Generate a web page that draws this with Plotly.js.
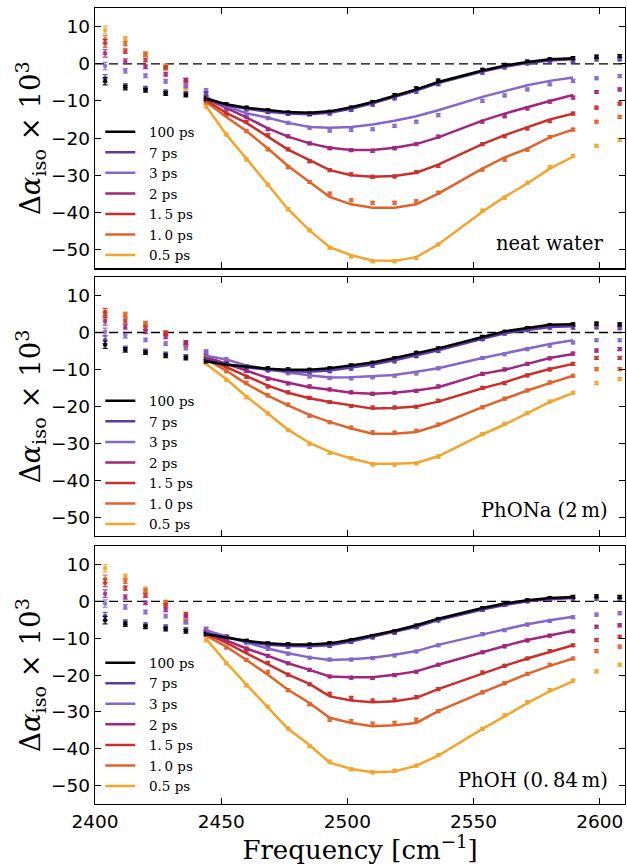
<!DOCTYPE html>
<html><head><meta charset="utf-8">
<script src="https://cdn.plot.ly/plotly-3.0.1.min.js"></script>
<style>html,body{margin:0;padding:0;background:#fff}#chart{width:627px;height:866px}</style>
</head><body><div id="chart"></div>
<script>
// ---------- data ----------
const freq = [2404, 2412, 2420, 2428, 2436, 2444, 2452, 2460, 2468.5, 2476.5, 2485, 2493, 2501.5, 2510, 2518.7, 2527.3, 2536, 2553.5, 2562.3, 2571.3, 2580.2, 2589.4, 2598.7, 2607.9];
const fitFreq = [2444, 2452, 2460, 2468.5, 2476.5, 2485, 2493, 2501.5, 2510, 2518.7, 2527.3, 2536, 2553.5, 2562.3, 2571.3, 2580.2, 2589.4];
const errBars = [1.0, 0.6, 0.5, 0.5, 0.5, 0.5, 0.4, 0.4, 0.4, 0.4, 0.4, 0.4, 0.4, 0.4, 0.4, 0.4, 0.4, 0.4, 0.4, 0.4, 0.4, 0.4, 0.4, 0.4];
const delayLabels = ["0.5 ps", "1.\u20090 ps", "1.\u20095 ps", "2 ps", "3 ps", "7 ps", "100 ps"];
const panelLabels = ["neat water", "PhONa (2\u2009m)", "PhOH (0.\u200984\u2009m)"];
const xTicks = [2400, 2450, 2500, 2550, 2600];
const yTicks = [-50, -40, -30, -20, -10, 0, 10];

// neat water: measured points
const water_pts_05  = [9.1, 6.7, 2.8, -0.6, -6.6, -11.4, -19.0, -25.7, -32.5, -39.1, -44.8, -49.5, -51.8, -53.1, -53.1, -52.2, -48.6, -39.5, -36.0, -32.0, -27.8, -24.8, -22.1, -20.5];
const water_pts_10  = [6.6, 5.4, 2.5, -1.2, -5.6, -10.3, -13.8, -18.1, -23.0, -27.8, -31.8, -34.9, -36.7, -37.4, -37.4, -37.0, -34.7, -28.5, -25.8, -23.1, -19.7, -17.7, -15.6, -14.3];
const water_pts_15  = [5.5, 3.4, 1.0, -0.9, -4.4, -9.8, -13.4, -15.6, -19.2, -23.0, -26.2, -28.6, -29.7, -30.4, -30.3, -29.1, -27.5, -21.6, -19.5, -17.4, -15.4, -13.4, -11.8, -10.7];
const water_pts_2   = [2.8, 0.7, -0.8, -2.8, -4.4, -9.0, -12.2, -14.2, -17.6, -19.5, -21.4, -22.7, -23.2, -23.4, -22.7, -21.6, -19.6, -15.6, -14.1, -12.0, -10.2, -9.1, -7.6, -6.9];
const water_pts_3   = [-0.6, -1.9, -3.2, -4.7, -6.0, -7.2, -12.0, -13.9, -14.6, -15.9, -17.2, -18.0, -17.8, -17.6, -16.7, -15.6, -13.8, -10.0, -8.5, -6.9, -5.5, -4.6, -3.9, -3.3];
const water_pts_7   = [-3.9, -5.9, -6.6, -7.5, -8.0, -8.0, -11.3, -12.3, -13.0, -13.5, -13.6, -13.4, -12.4, -11.0, -9.3, -7.5, -5.5, -2.4, -1.0, 0.1, 0.6, 0.7, 1.2, 1.2];
const water_pts_100 = [-4.7, -6.4, -7.1, -8.0, -8.4, -9.4, -10.9, -11.8, -12.5, -13.1, -13.4, -12.9, -11.8, -10.3, -8.4, -6.6, -4.5, -1.6, -0.3, 0.6, 1.2, 1.5, 1.9, 2.1];
// neat water: fits
const water_fit_05  = [-11.4, -19.0, -25.5, -32.5, -39.1, -44.8, -49.3, -51.5, -52.9, -53.0, -52.0, -48.6, -39.8, -35.8, -32.2, -28.2, -25.0];
const water_fit_10  = [-10.2, -14.3, -18.1, -22.8, -27.5, -31.8, -35.8, -37.8, -38.7, -38.7, -37.8, -34.9, -28.2, -25.2, -22.8, -19.8, -17.7];
const water_fit_15  = [-9.8, -13.2, -15.9, -19.6, -23.1, -25.9, -28.6, -30.0, -30.4, -30.2, -29.3, -27.1, -21.6, -19.2, -17.0, -15.0, -13.4];
const water_fit_2   = [-9.4, -12.0, -14.4, -17.4, -19.6, -21.4, -22.6, -23.2, -23.2, -22.6, -21.6, -19.8, -15.3, -13.4, -11.6, -10.0, -8.4];
const water_fit_3   = [-9.0, -11.4, -13.3, -14.5, -15.9, -17.0, -17.2, -17.0, -16.3, -15.3, -14.1, -12.5, -8.9, -7.3, -5.8, -4.6, -3.7];
const water_fit_7   = [-9.3, -11.1, -12.1, -12.9, -13.4, -13.6, -13.2, -12.1, -10.6, -8.9, -7.2, -5.2, -2.1, -0.8, 0.2, 0.9, 1.2];
const water_fit_100 = [-9.4, -10.9, -11.8, -12.5, -13.0, -13.2, -12.8, -11.7, -10.3, -8.6, -6.9, -4.9, -1.8, -0.5, 0.5, 1.2, 1.5];

// PhONa: measured points
const phona_pts_05  = [5.0, 4.9, 2.2, -0.4, -3.3, -8.2, -12.8, -17.5, -21.9, -26.4, -30.1, -32.6, -34.0, -35.7, -35.8, -35.4, -33.6, -27.5, -24.7, -21.8, -18.7, -16.3, -13.7, -12.6];
const phona_pts_10  = [4.5, 4.7, 2.5, 0.0, -3.3, -7.0, -10.5, -13.6, -17.0, -19.5, -22.5, -24.3, -25.7, -27.0, -27.1, -26.6, -24.9, -20.2, -17.9, -15.7, -13.5, -11.7, -9.9, -9.9];
const phona_pts_15  = [5.5, 3.1, 1.3, -0.3, -2.8, -6.2, -9.2, -12.0, -14.6, -16.2, -17.7, -18.8, -19.9, -20.3, -20.3, -20.1, -18.5, -15.0, -13.7, -11.6, -10.0, -8.5, -6.9, -6.9];
const phona_pts_2   = [3.0, 1.5, 0.2, -1.2, -2.7, -5.3, -8.2, -10.4, -12.5, -13.8, -14.6, -15.4, -16.2, -16.6, -16.3, -15.8, -14.6, -11.2, -10.0, -8.5, -7.0, -5.7, -4.9, -4.5];
const phona_pts_3   = [0.2, -0.9, -2.0, -3.0, -4.2, -5.2, -7.2, -9.2, -10.2, -11.0, -11.9, -12.3, -12.4, -12.1, -11.7, -11.1, -9.7, -6.9, -5.9, -4.5, -3.6, -2.7, -2.1, -2.1];
const phona_pts_7   = [-2.0, -4.3, -5.0, -5.8, -6.5, -7.2, -8.4, -9.4, -10.2, -10.6, -10.8, -10.5, -9.8, -9.0, -7.8, -6.4, -5.0, -1.8, -0.3, 0.6, 1.3, 1.3, 1.4, 1.2];
const phona_pts_100 = [-3.3, -4.7, -5.4, -6.3, -6.9, -7.8, -8.6, -9.2, -9.7, -10.0, -10.1, -9.7, -8.9, -8.2, -7.0, -5.5, -4.3, -1.2, 0.2, 1.2, 2.0, 2.2, 2.4, 2.2];
// PhONa: fits
const phona_fit_05  = [-8.5, -12.6, -17.3, -22.0, -26.3, -29.9, -32.3, -34.1, -35.5, -35.5, -35.3, -33.5, -27.6, -24.9, -21.9, -18.8, -16.4];
const phona_fit_10  = [-7.2, -10.3, -13.9, -17.1, -19.7, -22.3, -24.2, -26.0, -27.4, -27.4, -26.9, -25.1, -20.2, -17.9, -15.7, -13.7, -11.7];
const phona_fit_15  = [-6.9, -9.4, -11.9, -14.4, -16.3, -17.8, -18.8, -19.7, -20.6, -20.4, -20.0, -18.7, -15.1, -13.5, -11.5, -9.9, -8.5];
const phona_fit_2   = [-6.6, -8.5, -10.3, -12.3, -13.6, -14.8, -15.5, -16.3, -16.6, -16.3, -15.7, -14.8, -11.2, -10.1, -8.5, -6.9, -5.8];
const phona_fit_3   = [-6.3, -7.3, -8.9, -9.9, -10.8, -11.6, -12.2, -12.1, -11.9, -11.5, -10.6, -9.7, -6.9, -5.6, -4.3, -3.1, -2.1];
const phona_fit_7   = [-7.4, -8.6, -9.4, -10.1, -10.5, -10.6, -10.3, -9.6, -8.7, -7.5, -6.2, -4.8, -1.7, -0.2, 0.7, 1.5, 1.7];
const phona_fit_100 = [-7.8, -8.7, -9.2, -9.8, -10.1, -10.1, -9.7, -9.0, -8.1, -6.9, -5.7, -4.3, -1.2, 0.3, 1.2, 2.1, 2.2];

// PhOH: measured points
const phoh_pts_05  = [9.0, 6.8, 3.4, -0.6, -5.4, -10.5, -16.8, -22.8, -28.6, -34.5, -39.3, -43.5, -45.6, -46.4, -46.0, -44.6, -41.7, -34.6, -30.9, -27.4, -24.1, -21.5, -19.0, -17.2];
const phoh_pts_10  = [6.1, 5.5, 2.9, -0.2, -5.4, -9.0, -12.5, -15.9, -19.1, -24.1, -27.9, -32.1, -32.5, -33.2, -33.0, -32.1, -29.8, -24.7, -22.2, -19.7, -17.2, -15.5, -13.5, -12.3];
const phoh_pts_15  = [5.0, 3.6, 1.6, -1.1, -3.5, -8.3, -10.8, -13.4, -16.7, -19.9, -22.5, -25.1, -26.2, -26.9, -26.7, -26.0, -23.8, -19.3, -17.5, -15.5, -13.5, -11.9, -10.5, -9.6];
const phoh_pts_2   = [2.1, 1.2, -0.4, -2.3, -4.0, -7.6, -10.6, -12.8, -14.8, -16.8, -18.6, -20.4, -20.7, -20.8, -20.0, -19.1, -17.2, -13.8, -12.2, -10.6, -9.3, -8.1, -6.9, -6.5];
const phoh_pts_3   = [-0.6, -1.5, -2.9, -4.0, -5.7, -7.5, -9.4, -11.2, -12.9, -14.2, -15.3, -15.8, -15.8, -15.4, -14.7, -13.6, -11.9, -8.9, -7.8, -6.3, -5.3, -4.3, -3.6, -3.2];
const phoh_pts_7   = [-4.0, -5.6, -6.3, -6.9, -7.6, -8.4, -9.8, -11.0, -11.9, -12.3, -12.4, -12.1, -11.0, -9.8, -8.5, -7.0, -5.2, -2.3, -1.0, 0.0, 0.5, 0.7, 0.7, 0.7];
const phoh_pts_100 = [-5.1, -6.2, -6.9, -7.5, -8.1, -8.9, -9.7, -10.7, -11.4, -11.6, -11.7, -11.3, -10.5, -9.4, -8.1, -6.6, -4.8, -1.9, -0.5, 0.3, 0.9, 1.2, 1.4, 1.2];
// PhOH: fits
const phoh_fit_05  = [-10.1, -16.6, -22.6, -28.9, -34.6, -39.0, -43.8, -45.5, -46.4, -46.2, -44.6, -41.9, -34.6, -31.2, -27.6, -24.4, -21.7];
const phoh_fit_10  = [-9.3, -12.3, -15.9, -19.9, -24.0, -27.6, -31.6, -33.0, -33.9, -33.6, -33.0, -29.8, -24.7, -22.2, -19.7, -17.5, -15.5];
const phoh_fit_15  = [-8.8, -11.2, -14.1, -17.2, -19.9, -22.4, -25.8, -26.9, -27.4, -27.1, -26.2, -23.8, -19.5, -17.5, -15.5, -13.7, -11.9];
const phoh_fit_2   = [-8.4, -10.5, -12.8, -14.8, -16.8, -18.6, -20.4, -20.6, -20.6, -19.9, -19.0, -17.2, -13.7, -12.1, -10.5, -9.2, -8.0];
const phoh_fit_3   = [-7.8, -9.6, -11.2, -12.8, -14.1, -15.2, -15.9, -15.7, -15.3, -14.5, -13.5, -11.8, -8.9, -7.6, -6.2, -5.1, -4.2];
const phoh_fit_7   = [-8.6, -9.9, -11.0, -11.8, -12.1, -12.2, -11.9, -10.9, -9.6, -8.4, -6.9, -5.1, -2.2, -1.0, 0.0, 0.6, 0.9];
const phoh_fit_100 = [-8.9, -9.8, -10.7, -11.4, -11.7, -11.7, -11.4, -10.4, -9.2, -8.0, -6.5, -4.7, -1.8, -0.6, 0.3, 0.9, 1.2];

// ---------- styles ----------
const lineColors = ["#f2a52a", "#e0632b", "#c8302c", "#a1267e", "#8467c9", "#5a3aa3", "#000000"];
const pointColors = ["rgba(242,165,42,0.85)", "rgba(224,99,43,0.85)", "rgba(200,48,44,0.85)", "rgba(161,38,126,0.85)", "rgba(132,103,201,0.85)", "rgba(90,58,163,0.85)", "rgba(0,0,0,0.9)"];

const panels = [
  { pts: [water_pts_05, water_pts_10, water_pts_15, water_pts_2, water_pts_3, water_pts_7, water_pts_100],
    fit: [water_fit_05, water_fit_10, water_fit_15, water_fit_2, water_fit_3, water_fit_7, water_fit_100],
    xa: "x3", ya: "y3", leg: "legend3" },
  { pts: [phona_pts_05, phona_pts_10, phona_pts_15, phona_pts_2, phona_pts_3, phona_pts_7, phona_pts_100],
    fit: [phona_fit_05, phona_fit_10, phona_fit_15, phona_fit_2, phona_fit_3, phona_fit_7, phona_fit_100],
    xa: "x2", ya: "y2", leg: "legend2" },
  { pts: [phoh_pts_05, phoh_pts_10, phoh_pts_15, phoh_pts_2, phoh_pts_3, phoh_pts_7, phoh_pts_100],
    fit: [phoh_fit_05, phoh_fit_10, phoh_fit_15, phoh_fit_2, phoh_fit_3, phoh_fit_7, phoh_fit_100],
    xa: "x", ya: "y", leg: "legend" }
];

const traces = [];
panels.forEach(p => {
  p.pts.forEach((ys, i) => {
    traces.push({
      type: "scatter", mode: "markers", x: freq, y: ys, xaxis: p.xa, yaxis: p.ya,
      showlegend: false, hoverinfo: "skip",
      marker: { size: 4.5, color: pointColors[i] },
      error_y: { type: "data", array: errBars, visible: true, color: pointColors[i], thickness: 1.2, width: 2.5 }
    });
  });
  p.fit.forEach((ys, i) => {
    traces.push({
      type: "scatter", mode: "lines", x: fitFreq, y: ys, xaxis: p.xa, yaxis: p.ya,
      name: "\u00a0\u00a0" + delayLabels[i], legend: p.leg,
      line: { color: lineColors[i], width: 2.5 }
    });
  });
});

const serif = "DejaVu Serif, serif";
const sans = "DejaVu Sans, sans-serif";

function xAx(anchor, labels) {
  const a = {
    domain: [0, 1], range: [2400, 2610], anchor: anchor, tickmode: "array", tickvals: xTicks,
    ticks: "inside", ticklen: 6, tickwidth: 1, tickcolor: "#000",
    showline: true, linecolor: "#000", linewidth: 1.3, mirror: "ticks",
    showgrid: false, zeroline: false, showticklabels: labels,
    tickfont: { family: sans, size: 18.5, color: "#000" }
  };
  if (labels) a.title = { text: "Frequency [cm<sup>\u22121</sup>]", font: { family: serif, size: 26, color: "#000" }, standoff: 8 };
  return a;
}
function yAx(anchor, dom) {
  return {
    domain: dom, range: [-55, 15], anchor: anchor, tickmode: "array", tickvals: yTicks,
    ticks: "inside", ticklen: 6, tickwidth: 1, tickcolor: "#000",
    showline: true, linecolor: "#000", linewidth: 1.3, mirror: "ticks",
    showgrid: false, zeroline: false,
    tickfont: { family: sans, size: 18.5, color: "#000" },
    title: { text: "\u0394<i>\u03b1</i><sub>iso</sub> \u00d7 10<sup>3</sup>", font: { family: serif, size: 27.5, color: "#000" }, standoff: 0 }
  };
}
function leg(yc) {
  return { x: 0.01, xanchor: "left", y: yc, yanchor: "middle", bgcolor: "rgba(0,0,0,0)", borderwidth: 0,
    traceorder: "reversed", font: { family: serif, size: 13.5, color: "#000" }, itemwidth: 30 };
}

const shapes = ["y", "y2", "y3"].map(ya => ({
  type: "line", xref: "paper", x0: 0, x1: 1, yref: ya, y0: 0, y1: 0,
  line: { color: "#000", width: 1.3, dash: "9px,5px" }, layer: "below"
}));

const annotations = [
  { text: panelLabels[0], xref: "paper", x: 0.962, xanchor: "right", yref: "y3", y: -48.3, yanchor: "middle", showarrow: false, font: { family: serif, size: 19.5, color: "#000" } },
  { text: panelLabels[1], xref: "paper", x: 0.971, xanchor: "right", yref: "y2", y: -48.2, yanchor: "middle", showarrow: false, font: { family: serif, size: 19.5, color: "#000" } },
  { text: panelLabels[2], xref: "paper", x: 0.972, xanchor: "right", yref: "y", y: -48.6, yanchor: "middle", showarrow: false, font: { family: serif, size: 19.5, color: "#000" } }
];

const layout = {
  width: 627, height: 866,
  margin: { l: 95, r: 2, t: 8, b: 62 },
  paper_bgcolor: "#fff", plot_bgcolor: "#fff",
  xaxis: xAx("y", true), xaxis2: xAx("y2", false), xaxis3: xAx("y3", false),
  yaxis: yAx("x", [0, 0.324]), yaxis2: yAx("x2", [0.337, 0.662]), yaxis3: yAx("x3", [0.673, 1]),
  legend: leg(0.1), legend2: leg(0.429), legend3: leg(0.767),
  shapes: shapes, annotations: annotations
};

Plotly.newPlot("chart", traces, layout, { displayModeBar: false, staticPlot: true });
</script></body></html>
